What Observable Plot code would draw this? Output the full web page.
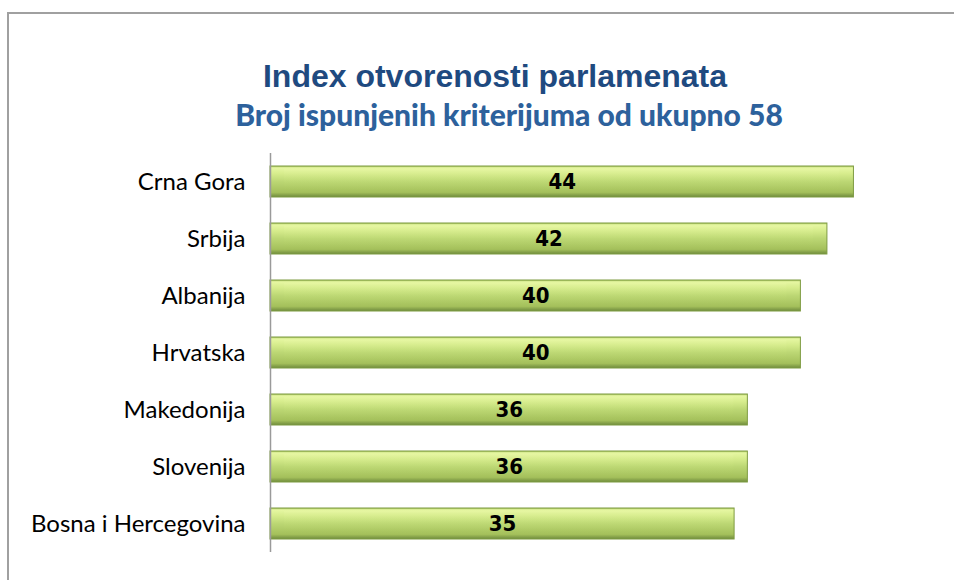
<!DOCTYPE html>
<html>
<head>
<meta charset="utf-8">
<script src="https://cdn.jsdelivr.net/npm/d3@7"></script>
<script src="https://cdn.jsdelivr.net/npm/@observablehq/plot@0.6"></script>
<style>
  html, body { margin: 0; padding: 0; background: #fff; }
  #wrap { position: relative; width: 954px; height: 580px; overflow: hidden; }
  #frame { position: absolute; left: 7px; top: 12px; width: 960px; height: 600px; border: 2px solid #a0a0a0; box-sizing: border-box; }
  .t { position: absolute; white-space: nowrap; transform: translateX(-50%); line-height: 1; }
  #title { left: 495px; top: 58px; font: bold 32px "Liberation Sans", Arial, sans-serif; color: #1f4a80; }
  #subtitle { left: 509px; top: 96px; font: 900 30px "Lato", "Open Sans", sans-serif; color: #2d619c; }
  #chart { position: absolute; left: 0; top: 0; }
</style>
</head>
<body>
<div id="wrap">
  <div id="frame"></div>
  <div id="chart"></div>
  <div class="t" id="title">Index otvorenosti parlamenata</div>
  <div class="t" id="subtitle">Broj ispunjenih kriterijuma od ukupno 58</div>
</div>
<script>
const countries = ["Crna Gora", "Srbija", "Albanija", "Hrvatska", "Makedonija", "Slovenija", "Bosna i Hercegovina"];
const scores = [44, 42, 40, 40, 36, 36, 35];

const data = countries.map((c, i) => ({country: c, score: scores[i]}));

const chart = Plot.plot({
  width: 954,
  height: 580,
  marginTop: 153,
  marginBottom: 28,
  marginLeft: 270,
  marginRight: 21,
  style: {background: "transparent", overflow: "visible"},
  x: {domain: [0, 50], axis: null},
  y: {domain: countries, paddingInner: 0.46, paddingOuter: 0.23, label: null},
  marks: [
    Plot.barX(data, {
      y: "country", x: "score",
      fill: "url(#barGrad)", stroke: "#7f9c43", strokeWidth: 1,
      ariaLabel: "main-bar"
    }),
    Plot.barX(data, {
      y: "country", x: "score",
      fill: "url(#bevelGrad)", insetTop: 3, insetBottom: 6, insetLeft: 14, insetRight: 14
    }),
    Plot.text(data, {
      y: "country", x: d => d.score / 2, text: d => String(d.score),
      fill: "#000", fontSize: 22, fontWeight: "bold",
      fontFamily: "'Liberation Sans Narrow', 'DejaVu Sans Condensed', sans-serif"
    }),
    Plot.ruleX([0], {stroke: "#9a9a9a", strokeWidth: 1.5}),
    Plot.axisY({
      tickSize: 0, tickPadding: 25, fontSize: 24, label: null,
      fontFamily: "Lato, 'Open Sans', sans-serif", fill: "#000"
    })
  ]
});

const svg = d3.select(chart);
const defs = svg.insert("defs", ":first-child");
const g = defs.append("linearGradient").attr("id", "barGrad").attr("x1", 0).attr("y1", 0).attr("x2", 0).attr("y2", 1);
[["0%", "#a8c45c"], ["6%", "#e6f7a2"], ["25%", "#d6ec8c"], ["50%", "#bcd774"], ["85%", "#a4c05b"], ["100%", "#6f8b3d"]]
  .forEach(([o, c]) => g.append("stop").attr("offset", o).attr("stop-color", c));
const b = defs.append("linearGradient").attr("id", "bevelGrad").attr("x1", 0).attr("y1", 0).attr("x2", 0).attr("y2", 1);
b.append("stop").attr("offset", "0%").attr("stop-color", "#e8f7a4").attr("stop-opacity", 0.6);
b.append("stop").attr("offset", "45%").attr("stop-color", "#c9e37e").attr("stop-opacity", 0.35);
b.append("stop").attr("offset", "100%").attr("stop-color", "#a6c35a").attr("stop-opacity", 0.15);
const f = defs.append("filter").attr("id", "shadow").attr("x", "-5%").attr("y", "-30%").attr("width", "115%").attr("height", "190%");
f.append("feDropShadow").attr("dx", 2).attr("dy", 4).attr("stdDeviation", 2.5).attr("flood-color", "#000").attr("flood-opacity", 0.3);
svg.select("g[aria-label='main-bar']").attr("filter", "url(#shadow)");

document.getElementById("chart").appendChild(chart);
</script>
</body>
</html>
